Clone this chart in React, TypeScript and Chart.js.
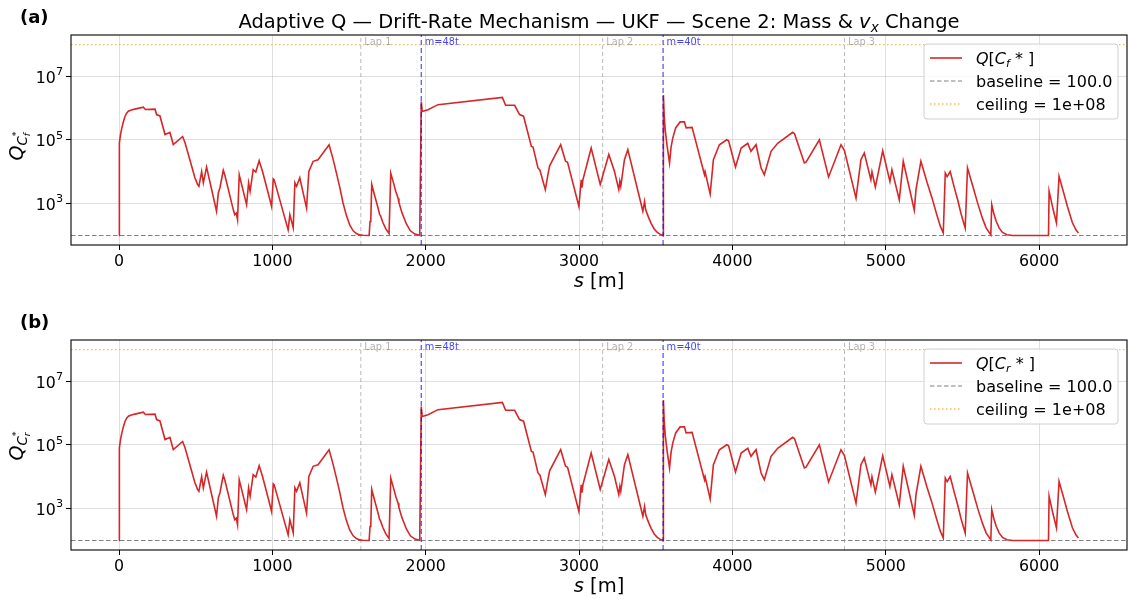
import React, { useEffect, useRef } from "react";
import { Chart, registerables } from "chart.js";

Chart.register(...registerables);

const FONT = '"DejaVu Sans", sans-serif';

// arc length s [m]
const S_M = [
  0, 0.3, 2, 5, 10, 17, 27, 39, 50, 61,
  80, 110, 159, 165, 172, 235, 245, 267, 300, 332,
  354, 415, 430, 462, 495, 505, 512, 521, 539, 550,
  571, 636, 648, 658, 680, 690, 745, 755, 765, 773,
  784, 832, 845, 855, 875, 892, 914, 936, 984, 995,
  1006, 1012, 1103, 1114, 1136, 1147, 1158, 1179, 1223, 1238,
  1266, 1298, 1370, 1395, 1418, 1440, 1461, 1483, 1505, 1527,
  1548, 1570, 1590, 1631, 1637, 1642, 1648, 1660, 1675, 1690,
  1700, 1705, 1720, 1740, 1761, 1772, 1790, 1805, 1820, 1825,
  1845, 1874, 1900, 1930, 1961, 1971, 1977, 2015, 2080, 2500,
  2521, 2580, 2612, 2638, 2689, 2700, 2732, 2745, 2780, 2797,
  2808, 2880, 2912, 2925, 2999, 3014, 3019, 3025, 3079, 3138,
  3194, 3231, 3259, 3266, 3272, 3296, 3318, 3416, 3427, 3435,
  3455, 3470, 3490, 3510, 3530, 3548, 3550, 3555, 3562, 3575,
  3590, 3600, 3611, 3630, 3659, 3687, 3698, 3737, 3818, 3822,
  3855, 3876, 3915, 3963, 3975, 4020, 4057, 4100, 4121, 4154,
  4187, 4208, 4252, 4295, 4393, 4405, 4469, 4480, 4567, 4627,
  4708, 4730, 4806, 4838, 4860, 4903, 4910, 4932, 4980, 5027,
  5040, 5088, 5114, 5186, 5197, 5229, 5270, 5300, 5330, 5355,
  5375, 5388, 5400, 5420, 5450, 5470, 5490, 5505, 5518, 5533,
  5570, 5600, 5630, 5655, 5685, 5691, 5705, 5720, 5740, 5761,
  5790, 5827, 6061, 6065, 6090, 6113, 6130, 6160, 6185, 6217,
  6240, 6256,
];

// Q[C*] values (same trace in both panels)
const Q_CF = [
  100, 1.0e4, 4.0e4, 8.0e4, 1.5e5, 2.2e5, 3.5e5, 5.5e5, 7.0e5, 8.0e5,
  8.8e5, 9.5e5, 1.07e6, 1.0e6, 9.1e5, 9.3e5, 6.3e5, 5.7e5, 1.48e5, 1.74e5,
  7.2e4, 1.29e5, 8.3e4, 2.4e4, 6.5e3, 5.0e3, 4.0e3, 3.5e3, 1.02e4, 4.5e3,
  1.41e4, 575, 2.2e3, 3.1e3, 1.12e4, 7.9e3, 650, 450, 500, 310,
  8.1e3, 930, 4.5e3, 2.45e3, 1.17e4, 9.8e3, 2.24e4, 1.02e4, 1.32e3, 810,
  6.0e3, 5.6e3, 150, 450, 175, 4.5e3, 3.5e3, 6.5e3, 720, 1.02e4,
  2.14e4, 2.4e4, 7.1e4, 2.6e4, 9.1e3, 3.2e3, 1.05e3, 420, 210, 140,
  115, 104, 101, 100, 275, 320, 4.0e3, 2.4e3, 1.3e3, 700,
  450, 420, 260, 160, 115, 9.1e3, 4.5e3, 2.4e3, 1.48e3, 1.1e3,
  520, 230, 140, 110, 101, 1.62e6, 7.9e5, 8.9e5, 1.29e6, 2.19e6,
  1.23e6, 1.23e6, 6.3e5, 5.6e5, 6.3e4, 6.0e4, 1.32e4, 1.12e4, 2.75e3, 8.1e3,
  1.55e4, 7.1e4, 2.14e4, 2.0e4, 810, 5.6e3, 3.2e3, 5.6e3, 5.6e4, 4.0e3,
  3.5e4, 1.02e4, 2.75e3, 5.0e3, 3.5e3, 2.4e4, 5.0e4, 575, 1.17e3, 630,
  350, 240, 160, 125, 108, 101, 2.6e6, 6.0e5, 2.0e5, 6.0e4,
  1.9e4, 6.0e4, 1.15e5, 2.4e5, 3.7e5, 3.7e5, 2.4e5, 2.5e5, 8.1e3, 1.0e4,
  2.0e3, 2.4e4, 7.1e4, 1.02e5, 9.5e4, 1.41e4, 5.6e4, 7.9e4, 4.4e4, 7.1e4,
  1.32e4, 8.1e3, 4.4e4, 7.9e4, 1.74e5, 1.58e5, 1.9e4, 2.0e4, 1.02e5, 6.9e3,
  7.1e4, 4.7e4, 1.48e3, 2.4e4, 3.9e4, 5.6e3, 1.0e4, 3.3e3, 4.6e4, 5.0e3,
  1.17e4, 1.32e3, 2.14e4, 620, 2.75e3, 2.14e4, 4.5e3, 1.6e3, 500, 200,
  120, 9.1e3, 7.1e3, 1.02e4, 2.8e3, 1.26e3, 500, 280, 170, 1.32e4,
  3.2e3, 1.0e3, 350, 170, 105, 930, 480, 280, 170, 125,
  105, 100, 100, 2.45e3, 700, 250, 7.2e3, 2.2e3, 800, 250,
  150, 120,
];

const X_TICKS = [0, 1000, 2000, 3000, 4000, 5000, 6000];
const Y_TICKS = [1e3, 1e5, 1e7];
const Y_TICK_EXP = ["3", "5", "7"];
const LAP_S = [1577, 3154, 4731];
const LAP_LABELS = ["Lap 1", "Lap 2", "Lap 3"];
const MASS_S = [1971, 3548];
const MASS_LABELS = ["m=48t", "m=40t"];
const BASELINE = 100;
const CEILING = 1e8;
const X_RANGE = [-313, 6573];
const Y_RANGE = [50.1, 1.995e8];

type Part = { t: string; size: number; italic?: boolean; bold?: boolean; dy?: number; noAdvance?: boolean };

function fontOf(p: Part) {
  return `${p.italic ? "italic " : ""}${p.bold ? "bold " : ""}${p.size}px ${FONT}`;
}

function richWidth(ctx: CanvasRenderingContext2D, parts: Part[]) {
  let w = 0;
  for (const p of parts) {
    ctx.font = fontOf(p);
    if (!p.noAdvance) w += ctx.measureText(p.t).width;
  }
  return w;
}

function drawRich(ctx: CanvasRenderingContext2D, parts: Part[], x: number, y: number, align: "left" | "center" | "right") {
  const total = richWidth(ctx, parts);
  let cx = align === "center" ? x - total / 2 : align === "right" ? x - total : x;
  ctx.textAlign = "left";
  ctx.textBaseline = "alphabetic";
  for (const p of parts) {
    ctx.font = fontOf(p);
    ctx.fillText(p.t, cx, y + (p.dy || 0));
    if (!p.noAdvance) cx += ctx.measureText(p.t).width;
  }
}

function Panel({ top, tag, sub, showTitle, labelY }: { top: number; tag: string; sub: string; showTitle: boolean; labelY: number }) {
  const ref = useRef<HTMLCanvasElement>(null);

  useEffect(() => {
    const canvas = ref.current as HTMLCanvasElement;
    const [xMin, xMax] = X_RANGE;
    const [yMin, yMax] = Y_RANGE;
    const series = S_M.map((s, i) => ({ x: s, y: Q_CF[i] }));
    const datasets: any[] = [];
    MASS_S.forEach((s) =>
      datasets.push({
        data: [{ x: s, y: yMin }, { x: s, y: yMax }],
        borderColor: "rgba(0,0,255,0.7)",
        borderWidth: 1.2,
        borderDash: [5, 3],
      })
    );
    datasets.push({ data: series, borderColor: "#d62728", borderWidth: 1.6 });
    LAP_S.forEach((s) =>
      datasets.push({
        data: [{ x: s, y: yMin }, { x: s, y: yMax }],
        borderColor: "rgba(128,128,128,0.55)",
        borderWidth: 1,
        borderDash: [4, 3],
      })
    );
    datasets.push({
      data: [{ x: xMin, y: BASELINE }, { x: xMax, y: BASELINE }],
      borderColor: "#808080",
      borderWidth: 1.1,
      borderDash: [4.5, 2.5],
    });
    datasets.push({
      data: [{ x: xMin, y: CEILING }, { x: xMax, y: CEILING }],
      borderColor: "rgba(255,165,0,0.75)",
      borderWidth: 1.3,
      borderDash: [1.5, 2.5],
    });

    const deco = {
      id: "deco",
      afterDatasetsDraw(chart: any) {
        const ctx: CanvasRenderingContext2D = chart.ctx;
        const xs = chart.scales.x;
        const ca = chart.chartArea;
        ctx.save();
        ctx.font = `9.8px ${FONT}`;
        ctx.textAlign = "left";
        ctx.textBaseline = "alphabetic";
        LAP_S.forEach((s, i) => {
          ctx.fillStyle = "rgba(128,128,128,0.6)";
          ctx.fillText(LAP_LABELS[i], xs.getPixelForValue(s) + 3.5, ca.top + 9.5);
        });
        MASS_S.forEach((s, i) => {
          ctx.fillStyle = "rgba(0,0,255,0.75)";
          ctx.fillText(MASS_LABELS[i], xs.getPixelForValue(s) + 3.5, ca.top + 9.5);
        });
        ctx.restore();
      },
      afterDraw(chart: any) {
        const ctx: CanvasRenderingContext2D = chart.ctx;
        const ca = chart.chartArea;
        const ys = chart.scales.y;
        ctx.save();
        // frame
        ctx.strokeStyle = "#000";
        ctx.lineWidth = 1.1;
        ctx.strokeRect(ca.left, ca.top, ca.right - ca.left, ca.bottom - ca.top);

        // y tick labels (10 with superscript exponent)
        ctx.fillStyle = "#000";
        Y_TICKS.forEach((v, i) => {
          const py = ys.getPixelForValue(v);
          drawRich(
            ctx,
            [
              { t: "10", size: 15.8 },
              { t: Y_TICK_EXP[i], size: 11.2, dy: -7.5 },
            ],
            ca.left - 8,
            py + 6.2,
            "right"
          );
        });

        // legend
        const lx = 924, ly = 44, lw = 194, lh = 75, r = 3;
        ctx.beginPath();
        ctx.moveTo(lx + r, ly);
        ctx.arcTo(lx + lw, ly, lx + lw, ly + lh, r);
        ctx.arcTo(lx + lw, ly + lh, lx, ly + lh, r);
        ctx.arcTo(lx, ly + lh, lx, ly, r);
        ctx.arcTo(lx, ly, lx + lw, ly, r);
        ctx.closePath();
        ctx.fillStyle = "rgba(255,255,255,0.8)";
        ctx.fill();
        ctx.strokeStyle = "#d0d0d0";
        ctx.lineWidth = 1;
        ctx.stroke();
        const rows = [63.5, 86.5, 109.5];
        const samples = [
          { c: "#d62728", w: 1.6, d: [] as number[] },
          { c: "#808080", w: 1.1, d: [4.5, 2.5] },
          { c: "rgba(255,165,0,0.75)", w: 1.3, d: [1.5, 2.5] },
        ];
        samples.forEach((sm, i) => {
          ctx.beginPath();
          ctx.setLineDash(sm.d);
          ctx.strokeStyle = sm.c;
          ctx.lineWidth = sm.w;
          ctx.moveTo(930, rows[i] - 5.5);
          ctx.lineTo(962, rows[i] - 5.5);
          ctx.stroke();
        });
        ctx.setLineDash([]);
        ctx.fillStyle = "#000";
        const fs = 16;
        drawRich(
          ctx,
          [
            { t: "Q", size: fs, italic: true },
            { t: "[", size: fs },
            { t: "C", size: fs, italic: true },
            { t: sub, size: fs * 0.7, italic: true, dy: 3 },
            { t: " * ", size: fs },
            { t: "]", size: fs },
          ],
          976,
          rows[0],
          "left"
        );
        drawRich(ctx, [{ t: "baseline = 100.0", size: fs }], 976, rows[1], "left");
        drawRich(ctx, [{ t: "ceiling = 1e+08", size: fs }], 976, rows[2], "left");

        // x label
        const cx = (ca.left + ca.right) / 2;
        drawRich(
          ctx,
          [
            { t: "s", size: 19.5, italic: true },
            { t: " [m]", size: 19.5 },
          ],
          cx,
          287,
          "center"
        );

        // y label
        ctx.save();
        ctx.translate(23, labelY);
        ctx.rotate(-Math.PI / 2);
        drawRich(
          ctx,
          [
            { t: "Q", size: 19, italic: true },
            { t: "C", size: 13.3, italic: true, dy: 4 },
            { t: sub, size: 9.3, italic: true, dy: 7, noAdvance: true },
            { t: "*", size: 9.5, dy: -4.5 },
          ],
          0,
          0,
          "center"
        );
        ctx.restore();

        // panel tag
        drawRich(ctx, [{ t: tag, size: 18, bold: true }], 20, 23, "left");

        if (showTitle) {
          drawRich(
            ctx,
            [
              { t: "Adaptive Q — Drift-Rate Mechanism — UKF — Scene 2: Mass & ", size: 19.5 },
              { t: "v", size: 19.5, italic: true },
              { t: "x", size: 13.6, italic: true, dy: 4 },
              { t: " Change", size: 19.5 },
            ],
            cx,
            27.5,
            "center"
          );
        }
        ctx.restore();
      },
    };

    const chart = new Chart(canvas, {
      type: "line",
      data: { datasets },
      options: {
        animation: false,
        responsive: false,
        devicePixelRatio: 1,
        layout: { padding: { top: 35, right: 2, left: 0, bottom: 0 } },
        plugins: { legend: { display: false }, tooltip: { enabled: false }, title: { display: false } },
        elements: { point: { radius: 0 }, line: { tension: 0, fill: false } },
        scales: {
          x: {
            type: "linear",
            min: xMin,
            max: xMax,
            bounds: "data",
            afterBuildTicks: (s: any) => {
              s.ticks = X_TICKS.map((v) => ({ value: v }));
            },
            afterFit: (s: any) => {
              s.height = 49;
            },
            ticks: {
              callback: (v: any) => String(v),
              font: { family: FONT, size: 15.8 },
              color: "#000",
              padding: 2,
              maxRotation: 0,
              autoSkip: false,
            },
            grid: { color: "rgba(176,176,176,0.4)", lineWidth: 1, tickLength: 5, tickColor: "#000", tickWidth: 1 },
            border: { display: false },
          },
          y: {
            type: "logarithmic",
            min: yMin,
            max: yMax,
            afterBuildTicks: (s: any) => {
              s.ticks = Y_TICKS.map((v) => ({ value: v }));
            },
            afterFit: (s: any) => {
              s.width = 71;
            },
            ticks: {
              callback: () => "",
              font: { family: FONT, size: 15.8 },
              color: "#000",
              padding: 3,
              autoSkip: false,
            },
            grid: { color: "rgba(176,176,176,0.4)", lineWidth: 1, tickLength: 5, tickColor: "#000", tickWidth: 1 },
            border: { display: false },
          },
        },
      } as any,
      plugins: [deco],
    });
    return () => chart.destroy();
  }, []);

  return (
    <canvas
      ref={ref}
      width={1129}
      height={294}
      style={{ position: "absolute", left: 0, top, width: 1129, height: 294, display: "block" }}
    />
  );
}

export default function App() {
  return (
    <div style={{ position: "absolute", left: 0, top: 0, width: 1129, height: 599, background: "#fff", overflow: "hidden" }}>
      <Panel top={0} tag="(a)" sub="f" showTitle={true} labelY={146} />
      <Panel top={305} tag="(b)" sub="r" showTitle={false} labelY={141} />
    </div>
  );
}
